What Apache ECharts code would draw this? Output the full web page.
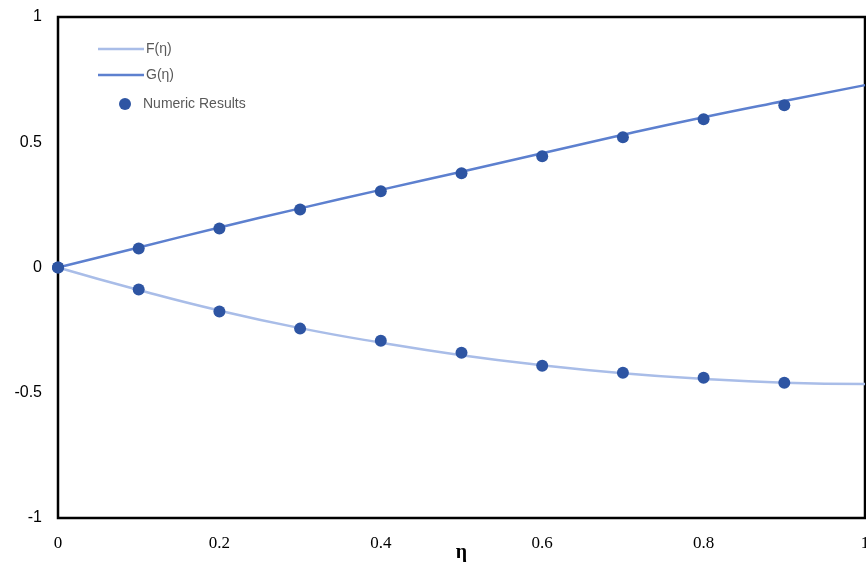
<!DOCTYPE html>
<html>
<head>
<meta charset="utf-8">
<script src="https://cdn.jsdelivr.net/npm/echarts@6/dist/echarts.min.js"></script>
<style>html,body{margin:0;padding:0;background:#fff}#c{width:866px;height:562px}</style>
</head>
<body>
<div id="c"></div>
<script>
// Data
const etaLine = [0, 0.1, 0.2, 0.3, 0.4, 0.5, 0.6, 0.7, 0.8, 0.9, 1.0];
const F_line = [0, -0.09, -0.172, -0.242, -0.300, -0.350, -0.390, -0.422, -0.445, -0.460, -0.465];
const G_line = [0, 0.080, 0.160, 0.236, 0.310, 0.382, 0.456, 0.530, 0.600, 0.665, 0.728];
const etaNum = [0, 0.1, 0.2, 0.3, 0.4, 0.5, 0.6, 0.7, 0.8, 0.9];
const F_num = [0, -0.088, -0.176, -0.244, -0.292, -0.340, -0.392, -0.420, -0.440, -0.460];
const G_num = [0, 0.076, 0.156, 0.232, 0.304, 0.376, 0.444, 0.520, 0.592, 0.648];
const yTicks = [-1, -0.5, 0, 0.5, 1];

const chart = echarts.init(document.getElementById('c'));
const pairs = (xs, ys) => xs.map((x, i) => [x, ys[i]]);
const numericPts = pairs(etaNum, F_num).concat(pairs(etaNum, G_num));

chart.setOption({
  animation: false,
  grid: { left: 58, top: 17, right: 1, bottom: 44, outerBoundsMode: 'none', containLabel: false,
    show: true, borderColor: '#000', borderWidth: 2.5, backgroundColor: '#fff' },
  xAxis: {
    type: 'value', min: 0, max: 1, interval: 0.2,
    name: 'η', nameLocation: 'middle', nameGap: 25, nameMoveOverlap: false,
    nameTextStyle: { fontFamily: 'Liberation Serif', fontWeight: 'bold', fontSize: 20, color: '#000' },
    axisLine: { show: false }, axisTick: { show: false }, splitLine: { show: false },
    axisLabel: { fontFamily: 'Liberation Serif', fontSize: 17, color: '#000', margin: 17,
      formatter: v => String(Math.round(v * 10) / 10) }
  },
  yAxis: {
    type: 'value', min: -1, max: 1, interval: 0.5,
    axisLine: { show: false }, axisTick: { show: false }, splitLine: { show: false },
    axisLabel: { fontFamily: 'Liberation Sans', fontSize: 16, color: '#000', margin: 16,
      formatter: v => String(v) }
  },
  legend: [
    { orient: 'vertical', left: 93, top: 37, itemWidth: 46, itemHeight: 2.5, itemGap: 12,
      textStyle: { fontFamily: 'Liberation Sans', fontSize: 14, color: '#595959', padding: [0,0,0,-3] },
      data: [{ name: 'F(η)', icon: 'rect' }, { name: 'G(η)', icon: 'rect' }] },
    { orient: 'vertical', left: 114, top: 92, itemWidth: 12, itemHeight: 12, itemGap: 11,
      textStyle: { fontFamily: 'Liberation Sans', fontSize: 14, color: '#595959', padding: [0,0,0,7] },
      data: [{ name: 'Numeric Results', icon: 'circle' }] }
  ],
  series: [
    { name: 'F(η)', type: 'line', smooth: true, symbol: 'none', data: pairs(etaLine, F_line),
      lineStyle: { color: '#a9bde8', width: 2.5 }, itemStyle: { color: '#a9bde8' }, z: 2 },
    { name: 'G(η)', type: 'line', smooth: true, symbol: 'none', data: pairs(etaLine, G_line),
      lineStyle: { color: '#5d80cf', width: 2.5 }, itemStyle: { color: '#5d80cf' }, z: 2 },
    { name: 'Numeric Results', type: 'scatter', symbol: 'circle', symbolSize: 12, data: numericPts,
      itemStyle: { color: '#2e55a3', opacity: 1 }, z: 3 }
  ]
});
</script>
</body>
</html>
